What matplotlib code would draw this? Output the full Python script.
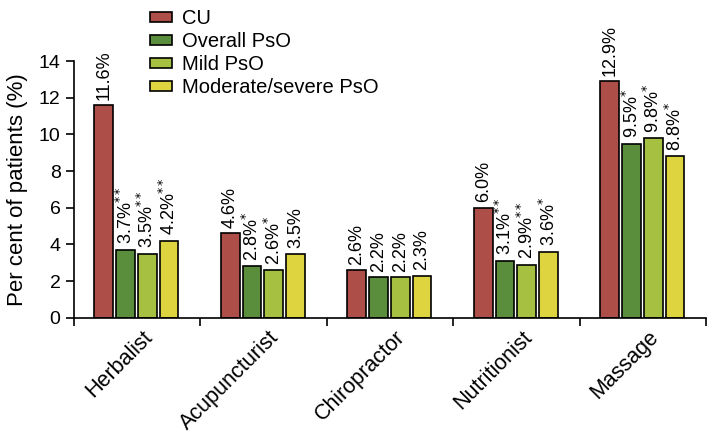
import numpy as np
import matplotlib
matplotlib.use("Agg")
import matplotlib.pyplot as plt

plt.rcParams['font.family'] = ['Liberation Sans', 'DejaVu Sans']

categories = ['Herbalist', 'Acupuncturist', 'Chiropractor', 'Nutritionist', 'Massage']
series = ['CU', 'Overall PsO', 'Mild PsO', 'Moderate/severe PsO']
cu = [11.6, 4.6, 2.6, 6.0, 12.9]
overall = [3.7, 2.8, 2.2, 3.1, 9.5]
mild = [3.5, 2.6, 2.2, 2.9, 9.8]
modsev = [4.2, 3.5, 2.3, 3.6, 8.8]
stars_cu = ['', '', '', '', '']
stars_overall = ['**', '*', '', '**', '*']
stars_mild = ['**', '*', '', '**', '*']
stars_modsev = ['**', '', '', '*', '*']
colors = ['#ad4f48', '#5a8e3d', '#a6c142', '#ddd43f']

values = [cu, overall, mild, modsev]
stars = [stars_cu, stars_overall, stars_mild, stars_modsev]

fig = plt.figure(figsize=(7.09, 4.36), dpi=100)
ax = fig.add_axes([0.104, 0.271, 0.892, 0.589])

x = np.arange(len(categories))
offsets = [-0.262, -0.09, 0.082, 0.254]
width = 0.148

handles = []
for i in range(4):
    b = ax.bar(x + offsets[i], values[i], width, color=colors[i],
               edgecolor='black', linewidth=1.2, label=series[i])
    handles.append(b)
    for xi, v, s in zip(x, values[i], stars[i]):
        txt = '%.1f%%' % v
        if s:
            txt += '$^{' + s + '}$'
        ax.text(xi + offsets[i], v + 0.3, txt, rotation=90, ha='center',
                va='bottom', fontsize=13, clip_on=False)

ax.set_xlim(-0.5, 4.5)
ax.set_ylim(0, 14)
ax.set_yticks(np.arange(0, 15, 2))
ax.set_xticks(np.arange(-0.5, 5, 1))
ax.set_xticklabels([])
for xi, c in zip(x, categories):
    ax.text(xi + 0.04, -0.5, c, rotation=45, ha='right', va='top',
            fontsize=15.5, rotation_mode='anchor')
ax.tick_params(axis='y', labelsize=14, length=6, width=1.2, direction='out')
ax.tick_params(axis='x', length=6, width=1.2, direction='out')
ax.spines['top'].set_visible(False)
ax.spines['right'].set_visible(False)
ax.spines['left'].set_linewidth(1.2)
ax.spines['bottom'].set_linewidth(1.2)
ax.set_ylabel('Per cent of patients (%)', fontsize=16, labelpad=8)

fig.legend(handles=handles, labels=series, loc='upper left',
           bbox_to_anchor=(0.2, 0.997), frameon=False, fontsize=14.5,
           handlelength=1.1, handleheight=0.4, handletextpad=0.5,
           labelspacing=0.2, borderaxespad=0)

fig.savefig('out.png', dpi=100)
